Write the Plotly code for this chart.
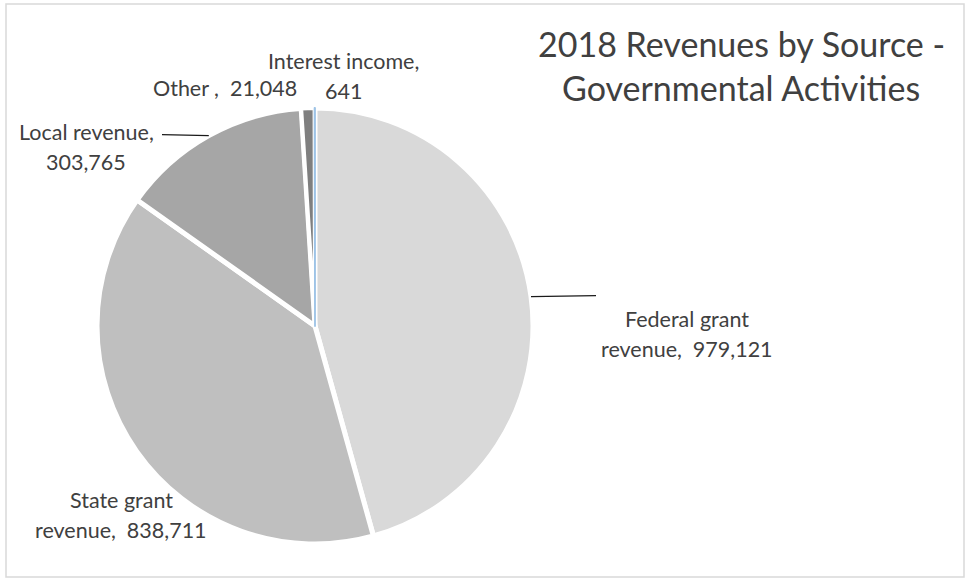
import math
import plotly.graph_objects as go

# ---- data ----
categories = ["Federal grant revenue", "State grant revenue", "Local revenue", "Other ", "Interest income"]
values = [979121, 838711, 303765, 21048, 641]
colors = ["#d9d9d9", "#bfbfbf", "#a6a6a6", "#7f7f7f", "#9dc3e6"]
label_templates = [
    ["Federal grant", "revenue,  {v}"],
    ["State grant", "revenue,  {v}"],
    ["Local revenue,", "{v}"],
    ["Other ,  {v}"],
    ["Interest income,", "{v}"],
]
title_lines = ["2018 Revenues by Source -", "Governmental Activities"]

W, H = 967, 579
# pie geometry in pixels
CX, CY, R = 315, 326, 218

def px(x):
    return x / W

def py(y):
    return 1 - y / H

fig = go.Figure()
fig.add_trace(go.Pie(
    labels=categories,
    values=values,
    sort=False,
    direction="clockwise",
    rotation=0,
    textinfo="none",
    hoverinfo="label+value",
    marker=dict(colors=colors,
                line=dict(color=["white", "white", "white", "white", "#9dc3e6"],
                          width=[5, 5, 5, 4, 1.8])),
    domain=dict(x=[px(CX - R), px(CX + R)], y=[py(CY + R), py(CY - R)]),
    showlegend=False,
))

# label positions (center of first line, pixels) and line spacing
label_pos = [(687, 319), (121, 500), (86, 132), (225, 88), (343, 61)]
LINE_SP = 30
font = dict(family="Lato, Open Sans, sans-serif", size=21.5, color="#404040")
annotations = []
for tmpl, v, (lx, ly) in zip(label_templates, values, label_pos):
    for i, line in enumerate(tmpl):
        annotations.append(dict(
            x=px(lx), y=py(ly + i * LINE_SP), xref="paper", yref="paper",
            text=line.format(v=f"{v:,}"), showarrow=False,
            xanchor="center", yanchor="middle", font=font))

for i, t in enumerate(title_lines):
    annotations.append(dict(
        x=px(741), y=py(43 + i * 45), xref="paper", yref="paper",
        text=t, showarrow=False, xanchor="center", yanchor="middle",
        font=dict(family="Lato, Open Sans, sans-serif", size=34, color="#404040")))

# leader lines from slice mid-angle edge to label
total = sum(values)
cum = 0
mids = []
for v in values:
    mids.append((cum + v / 2) / total * 2 * math.pi)
    cum += v
leader_ends = {0: 596, 2: 162}
shapes = []
for idx, ex in leader_ends.items():
    a = mids[idx]
    sx = CX + R * math.sin(a)
    sy = CY - R * math.cos(a)
    ey = sy - 1
    shapes.append(dict(type="line", xref="paper", yref="paper",
                       x0=px(sx), y0=py(sy), x1=px(ex), y1=py(ey),
                       line=dict(color="#1a1a1a", width=1.3)))

# chart border
shapes.append(dict(type="rect", xref="paper", yref="paper",
                   x0=px(6), y0=py(577), x1=px(964), y1=py(4),
                   line=dict(color="#d9d9d9", width=1.5)))

fig.update_layout(
    width=W, height=H,
    margin=dict(l=0, r=0, t=0, b=0),
    paper_bgcolor="white", plot_bgcolor="white",
    annotations=annotations, shapes=shapes,
)
fig.write_html("out.html",
               config={"displayModeBar": False},
               post_script="document.body.style.margin='0';document.body.style.overflow='hidden';")
